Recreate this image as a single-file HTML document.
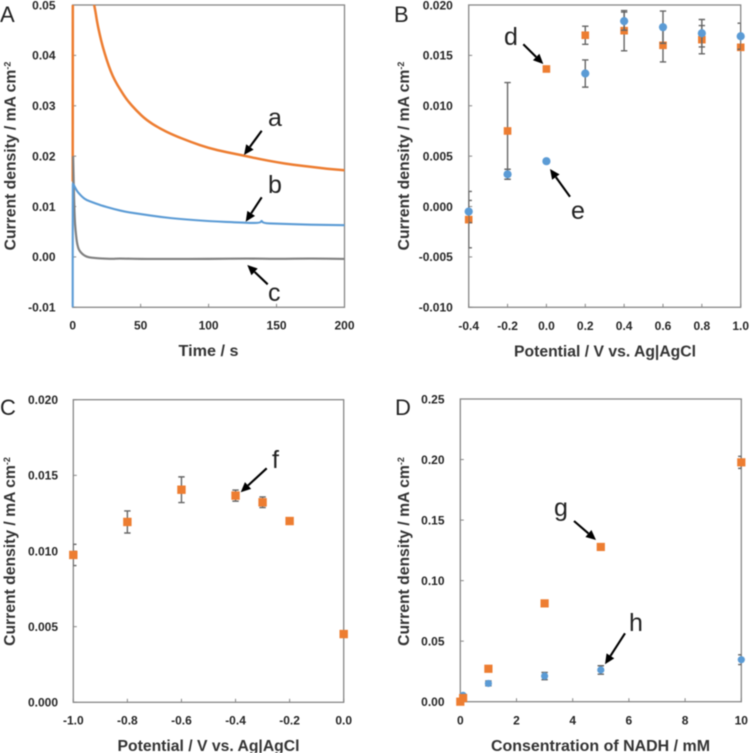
<!DOCTYPE html>
<html lang="en">
<head>
<meta charset="utf-8">
<title>Current density panels A-D</title>
<style>
html,body{margin:0;padding:0;background:#fff;width:750px;height:753px;overflow:hidden}
svg{display:block;filter:blur(0.45px)}
text{font-family:"Liberation Sans","Noto Sans CJK JP",sans-serif}
.tick{font-size:12px;font-weight:bold;fill:#262626}
.title{font-size:15.7px;font-weight:bold;fill:#333}
.xtitle{font-size:15.4px;font-weight:bold;fill:#333}
.letter{font-size:22px;fill:#222}
.anno{font-size:25px;fill:#222}
</style>
</head>
<body>
<svg id="figure" xmlns="http://www.w3.org/2000/svg" width="750" height="753" viewBox="0 0 750 753"></svg>
<script>
// Panel A
const aTicksX = ["0","50","100","150","200"];
const aTicksY = ["0.05","0.04","0.03","0.02","0.01","0.00","-0.01"];
const aTimeOrange = [0,0.1,0.15,16,18,20,22,25,28,31,35,40,47,54,64,74,87,100,113,126,138,150,162,175,187,200];
const aOrange = [0.015,0.06,0.07,0.05,0.0465,0.044,0.0418,0.0391,0.0368,0.035,0.0332,0.0311,0.029,0.0272,0.0255,0.0242,0.0228,0.0216,0.0208,0.0201,0.0194,0.0188,0.0183,0.0179,0.0175,0.0172];
const aTimeBlue = [0,0.02,0.3,1,3,5,7,10,15,20,30,40,50,65,80,100,126,138,139,140,150,175,200];
const aBlue = [-0.01,0.0145,0.0145,0.0142,0.0131,0.0125,0.0119,0.0113,0.0108,0.0103,0.0095,0.0089,0.0085,0.0079,0.0075,0.0071,0.0068,0.0067,0.0073,0.0067,0.0066,0.0064,0.0063];
const aTimeGray = [0.3,0.6,1,1.5,2,3,4,5,7,9,12,16,20,30,33,50,70,100,130,150,175,200];
const aGray = [0.02,0.016,0.0115,0.0075,0.0055,0.003,0.0018,0.0012,0.0006,0.0002,-0.0001,-0.0002,-0.0003,-0.0004,-0.0003,-0.0004,-0.0004,-0.0004,-0.0003,-0.0004,-0.0003,-0.0004];

// Panel B
const bTicksX = ["-0.4","-0.2","0.0","0.2","0.4","0.6","0.8","1.0"];
const bTicksY = ["0.020","0.015","0.010","0.005","0.000","-0.005","-0.010"];
const bPotential = [-0.4,-0.2,0,0.2,0.4,0.6,0.8,1.0];
const bBlue = [-0.0005,0.0032,0.0045,0.0132,0.0184,0.0178,0.0172,0.0169];
const bBlueErr = [0.0011,0.0005,0,0.00135,0.0009,0.0016,0.00136,0.0013];
const bOrange = [-0.0013,0.0075,0.01365,0.0170,0.01745,0.0160,0.01656,0.0158];
const bOrangeErr = [0.0028,0.0048,0.0002,0.0009,0.002,0.00165,0.0014,0.0003];

// Panel C
const cTicksX = ["-1.0","-0.8","-0.6","-0.4","-0.2","0.0"];
const cTicksY = ["0.020","0.015","0.010","0.005","0.000"];
const cPotential = [-1.0,-0.8,-0.6,-0.4,-0.3,-0.2,0];
const cOrange = [0.00974,0.01192,0.01405,0.01366,0.01322,0.01198,0.00451];
const cOrangeErr = [0.0007,0.00073,0.00085,0.00037,0.00035,0,0];

// Panel D
const dTicksX = ["0","2","4","6","8","10"];
const dTicksY = ["0.25","0.20","0.15","0.10","0.05","0.00"];
const dConcBlue = [0,0.1,1,3,5,10];
const dBlue = [0.0005,0.0052,0.0151,0.0212,0.0262,0.0347];
const dBlueErr = [0,0.001,0.002,0.003,0.0035,0.004];
const dConcOrange = [0,0.1,1,3,5,10];
const dOrange = [0,0.003,0.0272,0.0812,0.1278,0.1977];
const dOrangeErr = [0,0,0.001,0.001,0.001,0.005];

const NS = "http://www.w3.org/2000/svg";
const root = document.getElementById("figure");
const ORANGE = "#ed7d31", BLUE = "#5b9bd5", GRAY = "#808080", AXIS = "#868686", ERR = "#666666";

function make(tag, parent, props) {
  const e = document.createElementNS(NS, tag);
  for (const k in props) e.setAttribute(k, props[k]);
  parent.appendChild(e);
  return e;
}
function scale(d0, d1, r0, r1) {
  return v => r0 + (v - d0) / (d1 - d0) * (r1 - r0);
}

function panel(name, box, dx, dy, ticksX, ticksY, xTickY, xTitle, xTitleBase, xTitleX, xTitleW, yTitleX, yTitleMid, yLabelEnd) {
  const g = make("g", root, {});
  
  
  const sx = scale(dx[0], dx[1], box.l, box.r);
  const sy = scale(dy[0], dy[1], box.b, box.t);

  const frame = make("rect", g, {x: box.l, y: box.t, width: box.r - box.l, height: box.b - box.t, fill: "#fff", stroke: AXIS, "stroke-width": 1.3});
  
  

  ticksX.forEach(lab => {
    const v = parseFloat(lab);
    const t = make("line", g, {x1: sx(v), x2: sx(v), y1: box.b, y2: box.b - 3.5, stroke: AXIS, "stroke-width": 1});
    
    
    const x = make("text", g, {x: sx(v), y: xTickY, "text-anchor": "middle", class: "tick"});
    
    
    x.textContent = lab;
  });
  ticksY.forEach(lab => {
    const v = parseFloat(lab);
    const t = make("line", g, {x1: box.l, x2: box.l + 3.5, y1: sy(v), y2: sy(v), stroke: AXIS, "stroke-width": 1});
    
    
    const y = make("text", g, {x: yLabelEnd, y: sy(v) + 4.3, "text-anchor": "end", class: "tick"});
    
    
    y.textContent = lab;
  });

  const xt = make("text", g, {x: xTitleX, y: xTitleBase, "text-anchor": "middle", class: "xtitle", textLength: xTitleW, lengthAdjust: "spacingAndGlyphs"});
  
  
  xt.textContent = xTitle;

  const yt = make("text", g, {x: 0, y: 0, "text-anchor": "middle", class: "title", transform: "translate(" + yTitleX + "," + yTitleMid + ") rotate(-90)"});
  
  
  yt.appendChild(document.createTextNode("Current density / mA cm"));
  const sup = make("tspan", yt, {dy: -5, "font-size": 9});
  sup.textContent = "-2";

  const clipId = "clip-" + name;
  const cp = make("clipPath", g, {id: clipId});
  make("rect", cp, {x: box.l, y: box.t, width: box.r - box.l, height: box.b - box.t});
  return {g, sx, sy, box, clipId};
}

function curve(p, xs, ys, color, width, name) {
  const cid = "clip-" + name;
  const defs = make("clipPath", p.g, {id: cid});
  make("rect", defs, {x: p.box.l - 2, y: p.box.t, width: p.box.r - p.box.l + 4, height: p.box.b - p.box.t});
  const px = xs.map(p.sx), py = ys.map(p.sy);
  let d = "M" + px[0].toFixed(2) + " " + py[0].toFixed(2);
  for (let i = 1; i < px.length - 1; i++) {
    const mx = (px[i] + px[i + 1]) / 2, my = (py[i] + py[i + 1]) / 2;
    d += "Q" + px[i].toFixed(2) + " " + py[i].toFixed(2) + " " + mx.toFixed(2) + " " + my.toFixed(2);
  }
  d += "L" + px[px.length - 1].toFixed(2) + " " + py[py.length - 1].toFixed(2);
  const path = make("path", p.g, {d: d, fill: "none", stroke: color, "stroke-width": width, "stroke-linejoin": "round", "clip-path": "url(#" + cid + ")"});
  
  
}

function scatter(p, xs, ys, errs, color, shape, size, name) {
  xs.forEach((x, i) => {
    if (errs[i] > 0) {
      const cx = p.sx(x), y1 = p.sy(ys[i] + errs[i]), y2 = p.sy(ys[i] - errs[i]);
      const d = "M" + (cx - 3.2) + " " + y1 + "H" + (cx + 3.2) + "M" + cx + " " + y1 + "V" + y2 + "M" + (cx - 3.2) + " " + y2 + "H" + (cx + 3.2);
      const eb = make("path", p.g, {d: d, fill: "none", stroke: ERR, "stroke-width": 1.4, "clip-path": "url(#" + p.clipId + ")"});
      
      
    }
  });
  xs.forEach((x, i) => {
    let m;
    if (shape === "circle") {
      m = make("circle", p.g, {cx: p.sx(x), cy: p.sy(ys[i]), r: size / 2, fill: color});
    } else {
      m = make("rect", p.g, {x: p.sx(x) - size / 2, y: p.sy(ys[i]) - size / 2, width: size, height: size, fill: color});
    }
    
    
  });
}

function arrow(x1, y1, x2, y2, name) {
  const a = Math.atan2(y2 - y1, x2 - x1), L = 10, W = 4.6;
  const bx = x2 - L * Math.cos(a), by = y2 - L * Math.sin(a);
  const nx = -Math.sin(a), ny = Math.cos(a);
  const g = make("g", root, {});
  
  
  make("line", g, {x1: x1, y1: y1, x2: bx, y2: by, stroke: "#000", "stroke-width": 2.1});
  make("polygon", g, {points: x2 + "," + y2 + " " + (bx + nx * W) + "," + (by + ny * W) + " " + (bx - nx * W) + "," + (by - ny * W), fill: "#000"});
}

function label(str, x, y, cls, name) {
  const t = make("text", root, {x: x, y: y, class: cls});
  
  
  t.textContent = str;
}

const pA = panel("panel-a-chart", {l: 72.7, r: 344.5, t: 5, b: 307.3}, [0, 200], [-0.01, 0.05], aTicksX, aTicksY, 329.5, "Time / s", 356, 208.5, 60, 15.5, 156, 55.5);
curve(pA, aTimeOrange, aOrange, ORANGE, 2.5, "curve-a");
curve(pA, aTimeGray, aGray, GRAY, 2.2, "curve-c");
curve(pA, aTimeBlue, aBlue, BLUE, 2.1, "curve-b");

const pB = panel("panel-b-chart", {l: 468.7, r: 740.7, t: 5, b: 307.3}, [-0.4, 1.0], [-0.01, 0.02], bTicksX, bTicksY, 330, "Potential / V vs. Ag|AgCl", 356.5, 605, 182, 409, 156, 452.8);
scatter(pB, bPotential, bOrange, bOrangeErr, ORANGE, "rect", 7.6, "series-d");
scatter(pB, bPotential, bBlue, bBlueErr, BLUE, "circle", 8.2, "series-e");

const pC = panel("panel-c-chart", {l: 73.3, r: 343.7, t: 399.7, b: 702.3}, [-1.0, 0], [0, 0.02], cTicksX, cTicksY, 724.5, "Potential / V vs. Ag|AgCl", 751, 208.5, 182, 15, 551.5, 58);
scatter(pC, cPotential, cOrange, cOrangeErr, ORANGE, "rect", 8.4, "series-f");

const pD = panel("panel-d-chart", {l: 460.3, r: 741.3, t: 399, b: 701.7}, [0, 10], [0, 0.25], dTicksX, dTicksY, 724.5, "Consentration of NADH / mM", 751, 600.5, 219, 409, 551.5, 444.5);
scatter(pD, dConcBlue, dBlue, dBlueErr, BLUE, "circle", 7.2, "series-h");
scatter(pD, dConcOrange, dOrange, dOrangeErr, ORANGE, "rect", 8.2, "series-g");

arrow(261.7, 130.7, 244, 155, "arrow-a");
arrow(261.7, 197.3, 245.7, 221.7, "arrow-b");
arrow(267.7, 284.3, 247.3, 265, "arrow-c");
arrow(523.3, 44.3, 543.3, 64, "arrow-d");
arrow(570, 196.7, 550, 169, "arrow-e");
arrow(266.7, 468.3, 240.7, 492.3, "arrow-f");
arrow(574, 521, 596, 540, "arrow-g");
arrow(625, 633.3, 605, 664.3, "arrow-h");

label("A", 0, 22, "letter", "panel-label-a");
label("B", 394, 22, "letter", "panel-label-b");
label("C", 0, 415, "letter", "panel-label-c");
label("D", 395, 415, "letter", "panel-label-d");

label("a", 268, 126, "anno", "curve-label-a");
label("b", 268, 193, "anno", "curve-label-b");
label("c", 268, 301, "anno", "curve-label-c");
label("d", 504, 45, "anno", "series-label-d");
label("e", 571, 219, "anno", "series-label-e");
label("f", 272, 468, "anno", "series-label-f");
label("g", 554, 516, "anno", "series-label-g");
label("h", 629, 631, "anno", "series-label-h");
</script>
</body>
</html>
